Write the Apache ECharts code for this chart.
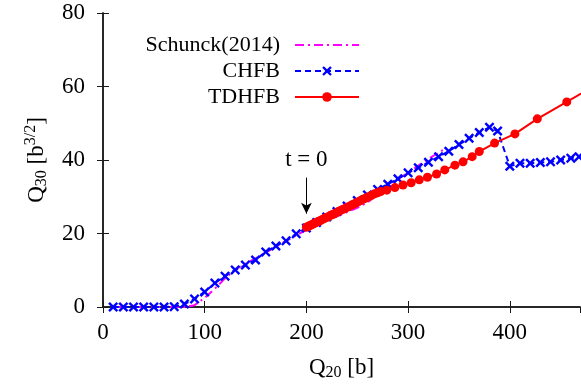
<!DOCTYPE html>
<html>
<head>
<meta charset="utf-8">
<script src="https://cdn.jsdelivr.net/npm/echarts@6/dist/echarts.min.js"></script>
<style>html,body{margin:0;padding:0;background:#fff}#c{width:581px;height:392px}</style>
</head>
<body>
<div id="c"></div>
<script>
// ---- data ----
const seriesNames = ['Schunck(2014)', 'CHFB', 'TDHFB'];
const xTicks = [0, 100, 200, 300, 400];
const yTicks = [0, 20, 40, 60, 80];

const schunckQ20 = [10, 80, 90, 100, 110, 120, 130, 140, 150, 160, 170, 180, 190, 200, 210, 220, 230, 240, 250, 260, 270, 280, 290, 300, 310, 320, 330, 336];
const schunckQ30 = [0, 0, 0.5, 2.5, 5.0, 7.8, 10.2, 11.8, 13.2, 14.8, 16.4, 18.0, 19.5, 21.0, 22.3, 23.5, 24.7, 25.8, 27.0, 28.5, 30.5, 32.8, 34.8, 36.6, 38.5, 40.3, 42.0, 43.0];

const chfbQ20 = [10, 20, 30, 40, 50, 60, 70, 80, 90, 100, 110, 120, 130, 140, 150, 160, 170, 180, 190, 200, 210, 220, 230, 240, 250, 260, 270, 280, 290, 300, 310, 320, 330, 340, 350, 360, 370, 380, 388, 400, 410, 420, 430, 440, 450, 460, 468];
const chfbQ30 = [0, 0, 0, 0, 0, 0, 0.1, 0.8, 2.2, 4.1, 6.5, 8.4, 10.1, 11.4, 12.8, 15.0, 16.6, 18.0, 19.9, 21.5, 23.0, 24.5, 26.0, 27.5, 29.0, 30.5, 32.0, 33.4, 34.9, 36.5, 37.9, 39.4, 40.9, 42.4, 44.2, 45.9, 47.5, 48.9, 47.9, 38.3, 39.1, 39.1, 39.3, 39.5, 40.0, 40.5, 40.9];

const tdhfbQ20 = [200, 201.5, 203, 204.5, 206, 207.5, 209, 210.5, 212, 213.5, 215, 217, 219, 221, 223, 225, 227, 229, 231, 233, 235.5, 238, 240.5, 243, 245.5, 248, 250.5, 253, 255.5, 258, 261, 264, 267, 270, 273, 279, 287, 295, 303, 311, 319, 328, 336, 346, 354, 363, 370, 385, 405, 427, 456, 488];
const tdhfbQ30 = [21.7, 21.9, 22.1, 22.3, 22.5, 22.7, 22.9, 23.1, 23.3, 23.5, 23.7, 24.0, 24.3, 24.5, 24.8, 25.1, 25.3, 25.6, 25.9, 26.2, 26.5, 26.8, 27.2, 27.5, 27.9, 28.2, 28.6, 28.9, 29.3, 29.6, 30.0, 30.4, 30.8, 31.1, 31.4, 31.8, 32.5, 33.2, 33.8, 34.6, 35.3, 36.2, 37.3, 38.6, 39.5, 40.9, 42.3, 44.6, 47.1, 51.2, 55.8, 61.0];

const annotText = 't = 0';
const annotAt = [200, 40];
const arrowFrom = [200, 35.2];
const arrowTo = [200, 25.4];

// ---- build ----
const pair = (xs, ys) => xs.map((x, i) => [x, ys[i]]);
const FONT = '"Liberation Serif", "DejaVu Serif", serif';
const crossPath = 'path://M0,1.7 L1.7,0 L5,3.3 L8.3,0 L10,1.7 L6.7,5 L10,8.3 L8.3,10 L5,6.7 L1.7,10 L0,8.3 L3.3,5 Z';
const XMAX = 469;

const axisLineStyle = { show: true, lineStyle: { color: '#1a1a1a', width: 1.5 } };
const tickIn = { show: true, inside: true, length: 6, lineStyle: { color: '#1a1a1a', width: 1 } };

function mkLegend(name, top, hideSymbol) {
  const l = {
    data: [name], right: 216, top: top, orient: 'vertical', align: 'right',
    itemWidth: 64, itemHeight: 12, itemGap: 0,
    textStyle: { fontFamily: FONT, fontSize: 22, color: '#000', padding: [0, 10, 0, 0] },
    selectedMode: false
  };
  if (hideSymbol) l.itemStyle = { opacity: 0 };
  return l;
}

const option = {
  animation: false,
  backgroundColor: '#fff',
  grid: { left: 103, right: 1, top: 13, bottom: 85, containLabel: false },
  legend: [mkLegend(seriesNames[0], 29, true), mkLegend(seriesNames[1], 55), mkLegend(seriesNames[2], 81)],
  xAxis: [{
    type: 'value', min: xTicks[0], max: XMAX, interval: 100, position: 'bottom',
    axisLine: axisLineStyle, axisTick: tickIn, splitLine: { show: false },
    axisLabel: { fontFamily: FONT, fontSize: 23, color: '#000', margin: 14, showMaxLabel: false,
      formatter: v => (xTicks.indexOf(v) >= 0 ? String(v) : '') },
    name: '{q|Q}{s|20}{q| [b]}', nameLocation: 'middle', nameGap: 48,
    nameTextStyle: { rich: { q: { fontFamily: FONT, fontSize: 23, color: '#000' }, s: { fontFamily: FONT, fontSize: 16, color: '#000', verticalAlign: 'bottom', padding: [10, 0, 0, 0] } } }
  }, {
    type: 'value', min: xTicks[0], max: XMAX, interval: 100, position: 'top',
    axisLine: axisLineStyle, axisTick: tickIn, axisLabel: { show: false }, splitLine: { show: false }
  }],
  yAxis: [{
    type: 'value', min: yTicks[0], max: yTicks[yTicks.length - 1], interval: 20, position: 'left',
    axisLine: axisLineStyle, axisTick: tickIn, splitLine: { show: false },
    axisLabel: { fontFamily: FONT, fontSize: 23, color: '#000', margin: 18 },
    name: '{q|Q}{s|30}{q| [b}{p|3/2}{q|]}', nameLocation: 'middle', nameGap: 52, nameRotate: 90,
    nameTextStyle: { rich: {
      q: { fontFamily: FONT, fontSize: 23, color: '#000' },
      s: { fontFamily: FONT, fontSize: 16, color: '#000', padding: [10, 0, 0, 0] },
      p: { fontFamily: FONT, fontSize: 16, color: '#000', padding: [0, 0, 12, 0] } } }
  }, {
    type: 'value', min: yTicks[0], max: yTicks[yTicks.length - 1], interval: 20, position: 'right',
    axisLine: axisLineStyle, axisTick: tickIn, axisLabel: { show: false }, splitLine: { show: false }
  }],
  series: [{
    name: seriesNames[0], type: 'line', data: pair(schunckQ20, schunckQ30),
    showSymbol: false, symbol: 'none', color: '#ff00ff',
    lineStyle: { color: '#ff00ff', width: 2, type: [9, 4, 2, 4] }, z: 2
  }, {
    name: seriesNames[1], type: 'line', data: pair(chfbQ20, chfbQ30),
    symbol: crossPath, symbolSize: 10, color: '#0000ff',
    itemStyle: { color: '#0000ff' },
    lineStyle: { color: '#0000ff', width: 2, type: [6, 4] }, z: 3
  }, {
    name: seriesNames[2], type: 'line', data: pair(tdhfbQ20, tdhfbQ30),
    symbol: 'circle', symbolSize: 9, color: '#ff0000',
    itemStyle: { color: '#ff0000' },
    lineStyle: { color: '#ff0000', width: 2 }, z: 4,
    markPoint: {
      symbol: 'circle', symbolSize: 0, silent: true,
      label: { show: true, position: 'inside', formatter: annotText, fontFamily: FONT, fontSize: 23, color: '#000' },
      data: [{ coord: annotAt }]
    },
    markLine: {
      silent: true, symbol: ['none', 'arrow'], symbolSize: [8, 11],
      lineStyle: { color: '#000', width: 1, type: 'solid' }, label: { show: false },
      data: [[{ coord: arrowFrom }, { coord: arrowTo }]]
    }
  }]
};

const chart = echarts.init(document.getElementById('c'), null, { renderer: 'canvas' });
chart.setOption(option);
</script>
</body>
</html>
